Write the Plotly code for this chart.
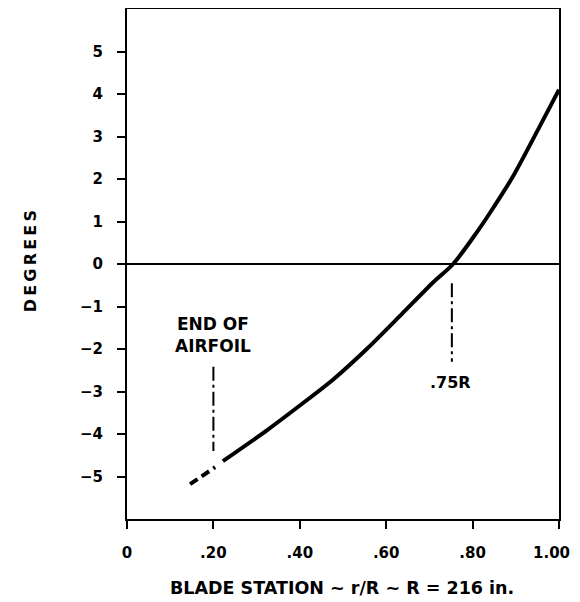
import plotly.graph_objects as go

# Data
dash_x = [0.146, 0.204]
dash_y = [-5.18, -4.78]
curve_x = [0.222, 0.323, 0.40, 0.478, 0.555, 0.632, 0.709, 0.755, 0.81, 0.84, 0.894, 0.956, 1.0]
curve_y = [-4.64, -3.92, -3.33, -2.71, -2.00, -1.22, -0.43, 0.0, 0.75, 1.20, 2.07, 3.25, 4.10]

marker1_x = [0.20, 0.20]
marker1_y = [-2.42, -4.40]
marker2_x = [0.752, 0.752]
marker2_y = [-0.45, -2.30]

x_ticks = [0, 0.2, 0.4, 0.6, 0.8, 1.0]
x_tick_text = ["0", ".20", ".40", ".60", ".80", "1.00\u2003"]
y_ticks = [-5, -4, -3, -2, -1, 0, 1, 2, 3, 4, 5]

FONT = "DejaVu Sans, Liberation Sans, Arial, sans-serif"
FS = 15

fig = go.Figure()
fig.add_trace(go.Scatter(x=dash_x, y=dash_y, mode="lines",
                         line=dict(color="black", width=4, dash="9px,5px")))
fig.add_trace(go.Scatter(x=curve_x, y=curve_y, mode="lines",
                         line=dict(color="black", width=4, shape="spline", smoothing=0.8)))
fig.add_trace(go.Scatter(x=marker1_x, y=marker1_y, mode="lines",
                         line=dict(color="black", width=2, dash="14px,4px,3px,4px")))
fig.add_trace(go.Scatter(x=marker2_x, y=marker2_y, mode="lines",
                         line=dict(color="black", width=2, dash="14px,4px,3px,4px")))

fig.add_shape(type="line", xref="paper", x0=0, x1=1, yref="y", y0=0, y1=0,
              line=dict(color="black", width=2))

fig.add_annotation(x=0.2, y=-1.67, text="END OF<br>AIRFOIL", showarrow=False,
                   font=dict(family=FONT, size=17, color="black", weight="bold"))
fig.add_annotation(x=0.748, y=-2.78, text=".75R", showarrow=False,
                   font=dict(family=FONT, size=16, color="black", weight="bold"))
fig.add_annotation(xref="paper", yref="paper", x=0.498, y=-0.158,
                   text="BLADE STATION ~ r/R ~ R = 216 in.", showarrow=False,
                   font=dict(family=FONT, size=17.5, color="black", weight="bold"))
fig.add_annotation(xref="paper", yref="paper", x=-0.248, y=0.506,
                   text="D\u2009E\u2009G\u2009R\u2009E\u2009E\u2009S", textangle=-90, showarrow=False,
                   font=dict(family=FONT, size=16, color="black", weight="bold"))

fig.update_layout(
    width=564, height=594,
    margin=dict(l=119, r=13, t=1, b=83, autoexpand=False),
    paper_bgcolor="white", plot_bgcolor="white",
    showlegend=False,
    font=dict(family=FONT, size=FS, color="black", weight="bold"),
)
fig.update_xaxes(range=[0, 1.0], tickvals=x_ticks, ticktext=x_tick_text,
                 ticks="outside", ticklen=8, tickwidth=2, tickcolor="black",
                 showline=True, linewidth=2, linecolor="black", mirror=True,
                 showgrid=False, zeroline=False, ticklabelstandoff=11,
                 ticklabeloverflow="allow", automargin=False)
fig.update_yaxes(range=[-6, 6], tickvals=y_ticks,
                 ticks="outside", ticklen=8, tickwidth=2, tickcolor="black",
                 showline=True, linewidth=2, linecolor="black", mirror=True,
                 showgrid=False, zeroline=False, ticklabelstandoff=11,
                 automargin=False)

fig.write_html("out.html")
